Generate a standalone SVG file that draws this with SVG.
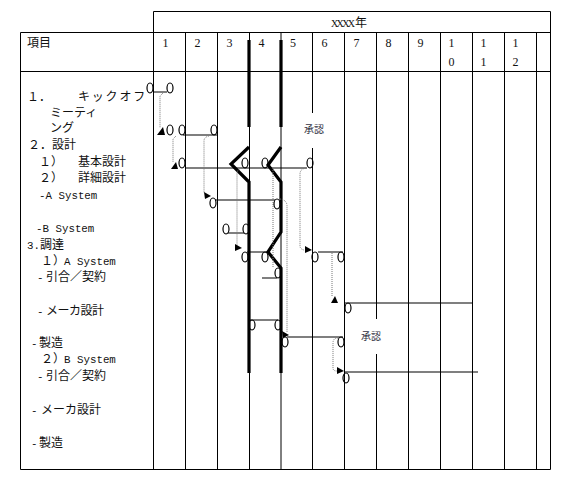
<svg xmlns="http://www.w3.org/2000/svg" width="570" height="483" viewBox="0 0 570 483">
<style>
.g{stroke:#000;stroke-width:1;fill:none}
.thick{stroke:#000;stroke-width:3.2;fill:none;stroke-linejoin:miter}
.ln{stroke:#000;stroke-width:1.2;fill:none}
.dot{stroke:#777;stroke-width:1;stroke-dasharray:1 1;fill:none}
.ov{stroke:#000;stroke-width:1.2;fill:none}
.ah{fill:#000}
.t{font-family:"Noto Sans CJK JP",sans-serif;font-size:12px;fill:#111}
.m{font-family:"Liberation Mono",monospace;font-size:10.8px;fill:#111}
.h{font-family:"Liberation Serif","Noto Sans CJK JP",serif;font-size:12px;fill:#111;text-anchor:middle}
.ap{font-family:"Noto Sans CJK JP",sans-serif;font-size:10px;fill:#334;text-anchor:middle}
</style>
<rect width="570" height="483" fill="#fff"/>
<g id="grid">
<path class="g" d="M153.5,11.5H550.5V469.5H20.5V32.5H550.5M20.5,71.5H550.5M153.5,11.5V469.5"/>
<path class="g" d="M185.5,32V469M217.5,32V469M249.5,32V469M281,32V469M312.5,32V113M312.5,148V469M344.5,32V469M376.5,32V319M376.5,354V469M408.5,32V469M440.5,32V469M472.5,32V469M504.5,32V469M536.5,32V469"/>
</g>
<g id="header">
<text x="331" y="27" fill="#111"><tspan font-family="Liberation Serif, serif" font-size="10" letter-spacing="-1.6">XXXX</tspan><tspan x="355" font-family="Noto Sans CJK JP, sans-serif" font-size="12">年</tspan></text>
<text class="t" x="27" y="47">項目</text>
<text class="h" x="165.5" y="47">1</text>
<text class="h" x="197.5" y="47">2</text>
<text class="h" x="229.5" y="47">3</text>
<text class="h" x="261.5" y="47">4</text>
<text class="h" x="293" y="47">5</text>
<text class="h" x="324.5" y="47">6</text>
<text class="h" x="356.5" y="47">7</text>
<text class="h" x="388.5" y="47">8</text>
<text class="h" x="420.5" y="47">9</text>
<text class="h" x="451.5" y="47">1</text>
<text class="h" x="451.5" y="66">0</text>
<text class="h" x="483.5" y="47">1</text>
<text class="h" x="483.5" y="66">1</text>
<text class="h" x="515.5" y="47">1</text>
<text class="h" x="515.5" y="66">2</text>
</g>
<g id="items">
<text class="t" y="101"><tspan x="27">１．</tspan><tspan x="78" letter-spacing="1.8">キックオフ</tspan></text>
<text class="t" x="50" y="116.5">ミーティ</text>
<text class="t" x="50" y="132">ング</text>
<text class="t" x="28" y="149">２．設計</text>
<text class="t" y="166"><tspan x="39">１）</tspan><tspan x="78">基本設計</tspan></text>
<text class="t" y="182"><tspan x="39">２）</tspan><tspan x="78">詳細設計</tspan></text>
<text class="m" x="39" y="199">-A System</text>
<text class="m" x="36" y="232">-B System</text>
<text y="249"><tspan class="m" x="27">3.</tspan><tspan class="t" x="40">調達</tspan></text>
<text y="265"><tspan class="t" x="41">１）</tspan><tspan class="m" x="64">A System</tspan></text>
<text y="281"><tspan class="m" x="37">-</tspan><tspan class="t" x="46">引合／契約</tspan></text>
<text y="315"><tspan class="m" x="37">-</tspan><tspan class="t" x="46" font-size="11" letter-spacing="-0.5">メーカ設計</tspan></text>
<text y="347"><tspan class="m" x="31">-</tspan><tspan class="t" x="39">製造</tspan></text>
<text y="363"><tspan class="t" x="41">２）</tspan><tspan class="m" x="64">B System</tspan></text>
<text y="380"><tspan class="m" x="37">-</tspan><tspan class="t" x="46">引合／契約</tspan></text>
<text y="414"><tspan class="m" x="31">-</tspan><tspan class="t" x="41">メーカ設計</tspan></text>
<text y="447"><tspan class="m" x="31">-</tspan><tspan class="t" x="39">製造</tspan></text>
</g>
<g id="milestones">
<path class="thick" d="M249,40V127M249,147L231,164L249,182V373"/>
<path class="thick" d="M281,40V127M281,147L268,165L281,182V232L268,252L281,268V373"/>
<text class="ap" x="314" y="133">承認</text>
<text class="ap" x="371" y="340">承認</text>
</g>
<g id="connectors">
<path class="ln" d="M153,92H167M183,135H217M185,168H307M215,200H275M228,233H244M247,252H268M318,252H343M262,278H277M345,303H472M250,320H278M287,337H343M345,372H478"/>
<path class="dot" d="M163,93L160,96V128"/>
<path class="dot" d="M176,136L173,139V162"/>
<path class="dot" d="M209,136Q204,137 204,141V193"/>
<path class="dot" d="M242,168Q237,169 237,174V246"/>
<path class="dot" d="M273,168V268"/>
<path class="dot" d="M306,168Q300,169 300,174V246Q300,249 304,250"/>
<path class="dot" d="M280,199Q287,200 287,206V332"/>
<path class="dot" d="M332,253V297"/>
<path class="dot" d="M338,338Q333,338 333,343V368Q333,371 337,371"/>
<polygon class="ah" points="157,135 165,135 163,127"/>
<polygon class="ah" points="171,169 178,169 176,162"/>
<polygon class="ah" points="204,192 211,196 205,199"/>
<polygon class="ah" points="235,244 242,248 235,251"/>
<polygon class="ah" points="305,246 312,250 305,253"/>
<polygon class="ah" points="331,303 338,303 335,296"/>
<polygon class="ah" points="282,331 289,335 283,338"/>
<polygon class="ah" points="337,367 344,371 337,374"/>
</g>
<g id="markers">
<ellipse class="ov" cx="150" cy="88" rx="3" ry="5"/>
<ellipse class="ov" cx="170" cy="88" rx="3" ry="5"/>
<ellipse class="ov" cx="170" cy="130" rx="3" ry="5"/>
<ellipse class="ov" cx="182" cy="130" rx="3" ry="5"/>
<ellipse class="ov" cx="214" cy="130" rx="3" ry="5"/>
<ellipse class="ov" cx="182" cy="163" rx="3" ry="5"/>
<ellipse class="ov" cx="245" cy="163" rx="3" ry="5"/>
<ellipse class="ov" cx="265" cy="163" rx="3" ry="5"/>
<ellipse class="ov" cx="310" cy="163" rx="3" ry="5"/>
<ellipse class="ov" cx="213" cy="203" rx="3" ry="5"/>
<ellipse class="ov" cx="277" cy="204" rx="3" ry="5"/>
<ellipse class="ov" cx="226" cy="229" rx="3" ry="5"/>
<ellipse class="ov" cx="246" cy="229" rx="3" ry="5"/>
<ellipse class="ov" cx="245" cy="257" rx="3" ry="5"/>
<ellipse class="ov" cx="265" cy="257" rx="3" ry="5"/>
<ellipse class="ov" cx="315" cy="257" rx="3" ry="5"/>
<ellipse class="ov" cx="341" cy="257" rx="3" ry="5"/>
<ellipse class="ov" cx="278" cy="273" rx="3" ry="5"/>
<ellipse class="ov" cx="348" cy="308" rx="3" ry="5"/>
<ellipse class="ov" cx="252" cy="325" rx="3" ry="5"/>
<ellipse class="ov" cx="278" cy="325" rx="3" ry="5"/>
<ellipse class="ov" cx="285" cy="342" rx="3" ry="5"/>
<ellipse class="ov" cx="341" cy="342" rx="3" ry="5"/>
<ellipse class="ov" cx="346" cy="378" rx="3" ry="5"/>
</g>
</svg>
